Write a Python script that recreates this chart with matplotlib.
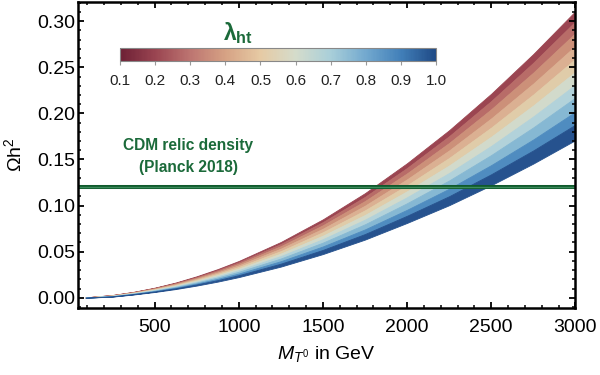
import matplotlib
matplotlib.use("Agg")
import matplotlib.pyplot as plt
import matplotlib.colors as mcolors
import matplotlib.colorbar as mcolorbar
from matplotlib.ticker import MultipleLocator
import numpy as np

plt.rcParams['font.family'] = ['Liberation Sans', 'DejaVu Sans']
plt.rcParams['mathtext.fontset'] = 'custom'
plt.rcParams['mathtext.rm'] = 'Liberation Sans'
plt.rcParams['mathtext.it'] = 'Liberation Sans:italic'
plt.rcParams['mathtext.bf'] = 'Liberation Sans:bold'

# Dark matter mass grid (GeV)
mass = [90, 250, 375, 500, 625, 750, 875, 1000, 1250, 1500, 1750, 2000, 2250,
        2500, 2750, 3000]
# relic density for lambda_ht = 0.1 (upper edge) and 1.0 (lower edge)
omega_top = [0.0004, 0.0030, 0.0064, 0.0109, 0.0165, 0.0233, 0.0311, 0.0399,
             0.0605, 0.0851, 0.1135, 0.1460, 0.1818, 0.2214, 0.2645, 0.3110]
omega_bot = [0.0000, 0.0012, 0.0035, 0.0062, 0.0094, 0.0132, 0.0175, 0.0224,
             0.0338, 0.0474, 0.0631, 0.0812, 0.1004, 0.1221, 0.1456, 0.1710]
# relative position of each lambda contour between the edges
contour_frac = [0.0, 0.08, 0.17, 0.27, 0.37, 0.47, 0.57, 0.67, 0.78, 0.88, 1.0]
band_colors = ['#9b4551', '#b86c68', '#cc9079', '#dbb092', '#e0cca9', '#d2dacb',
               '#b2d2da', '#86b8d3', '#4f8cc0', '#26528e']

planck = 0.120
lam_ticks = [0.1, 0.2, 0.3, 0.4, 0.5, 0.6, 0.7, 0.8, 0.9, 1.0]
cmap_lams = [0.1, 0.2, 0.3, 0.4, 0.5, 0.6, 0.7, 0.8, 0.9, 1.0]
cmap_cols = ['#6d2035', '#9a4551', '#bd7571', '#d6a284', '#e6caa4', '#d5dccb',
             '#a9cfd9', '#73a9cf', '#4280b9', '#1f4a86']

green = '#1b6a3a'

fig = plt.figure(figsize=(6, 3.75), dpi=100)
ax = fig.add_axes([0.13, 0.179, 0.829, 0.816])

m = np.array(mass)
top = np.array(omega_top)
bot = np.array(omega_bot)
for k in range(10):
    upper = top + contour_frac[k] * (bot - top)
    lower = top + contour_frac[k + 1] * (bot - top)
    ax.fill_between(m, lower, upper, color=band_colors[k], lw=0.6,
                    edgecolor=band_colors[k])

ax.axhline(planck, color='#0f5a2c', lw=2.9)
ax.axhline(planck, color='#3c8a5c', lw=1.0)

ax.text(700, 0.165, 'CDM relic density', color=green, fontsize=11.2,
        fontweight='bold', ha='center', va='center')
ax.text(700, 0.141, '(Planck 2018)', color=green, fontsize=11.2,
        fontweight='bold', ha='center', va='center')

ax.set_xlim(45, 3000)
ax.set_ylim(-0.011, 0.321)
ax.xaxis.set_minor_locator(MultipleLocator(100))
ax.yaxis.set_minor_locator(MultipleLocator(0.01))
ax.set_xticks([500, 1000, 1500, 2000, 2500, 3000])
ax.set_yticks([0.0, 0.05, 0.10, 0.15, 0.20, 0.25, 0.30])
ax.set_yticklabels(['0.00', '0.05', '0.10', '0.15', '0.20', '0.25', '0.30'])
ax.tick_params(which='both', direction='in', top=True, right=True, labelsize=14)
ax.tick_params(which='major', length=4.5, width=1.3)
ax.tick_params(which='minor', length=2.5, width=1.1)
ax.tick_params(axis='x', pad=8)
ax.tick_params(axis='y', pad=2)
for s in ax.spines.values():
    s.set_linewidth(1.8)

ax.set_xlabel(r'$M_{T^0}$ in GeV', fontsize=14, labelpad=6)
ax.set_ylabel(r'$\Omega\mathrm{h}^2$', fontsize=14, labelpad=9)

# colorbar
cmap = mcolors.LinearSegmentedColormap.from_list(
    'rbt', [((l - 0.1) / 0.9, c) for l, c in zip(cmap_lams, cmap_cols)])
cax = fig.add_axes([0.2, 0.8373, 0.5267, 0.0347])
cb = mcolorbar.ColorbarBase(cax, cmap=cmap, norm=mcolors.Normalize(0.1, 1.0),
                            orientation='horizontal', ticks=lam_ticks)
cb.outline.set_edgecolor('#888888')
cb.outline.set_linewidth(0.8)
cax.tick_params(length=3, color='#999999', labelsize=11, labelcolor='#222222', pad=6)
cax.set_xticklabels([f'{v:.1f}' for v in lam_ticks])
fig.text(0.397, 0.912, r'$\mathbf{\lambda}_{\mathbf{ht}}$', color=green,
         fontsize=16.5, ha='center', va='center')

fig.savefig('out.png', dpi=100)
